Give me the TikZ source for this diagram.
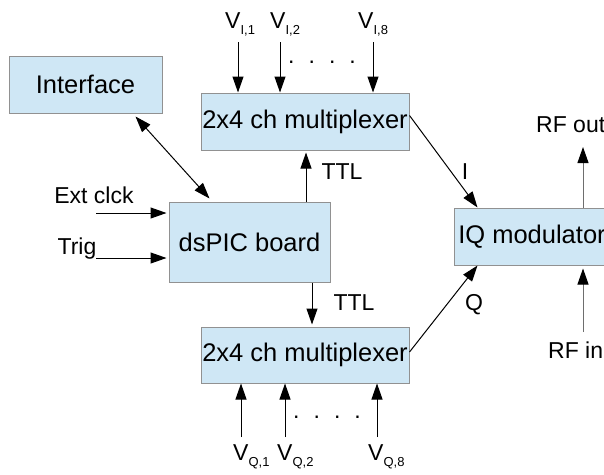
\documentclass[tikz,border=0pt]{standalone}
\usepackage{fontspec}
\setmainfont{Liberation Sans}
\usepackage{xcolor}
\usetikzlibrary{arrows.meta, positioning, calc}
\definecolor{boxblue}{RGB}{207, 231, 245}
\definecolor{boxedge}{RGB}{145, 145, 145}
\definecolor{rfgray}{RGB}{110, 110, 110}
\newcommand{\vchan}[2]{V\raisebox{-0.5ex}{\fontsize{13}{13}\selectfont #1,#2}}

\begin{document}
\begin{tikzpicture}[x=1pt, y=-1pt,
    blk/.style={draw=boxedge, fill=boxblue, line width=1pt, inner sep=0pt,
                font=\fontsize{25.5}{25.5}\selectfont},
    lbl/.style={font=\fontsize{23}{23}\selectfont, inner sep=0pt},
    sig/.style={-{Triangle[length=16pt, width=11pt]}, line width=1pt},
    dbl/.style={{Triangle[length=16pt, width=11pt]}-{Triangle[length=16pt, width=11pt]}, line width=1pt},
    rf/.style={-{Triangle[length=16pt, width=11pt, black]}, line width=1pt, draw=rfgray}]
    \useasboundingbox (0,0) rectangle (604,474);

    % Bloecke
    \node[blk, minimum width=153pt, minimum height=57pt] (ifc) at (85.5,84.5) {Interface};
    \node[blk, minimum width=208pt, minimum height=57pt] (tmux) at (305,121.5) {2x4 ch multiplexer};
    \node[blk, minimum width=161pt, minimum height=80pt] (dsp) at (249.5,242) {dsPIC board};
    \node[blk, minimum width=208pt, minimum height=56pt] (bmux) at (305,355) {2x4 ch multiplexer};
    \node[blk, minimum width=156pt, minimum height=57pt] (iq) at (532,236.5) {IQ modulator};

    % dsPIC Verbindungen
    \draw[dbl] ([xshift=-27pt, yshift=-3pt]ifc.south east) -- ([xshift=41pt, yshift=3pt]dsp.north west);
    \draw[sig] ([xshift=56.5pt]dsp.north) -- ([xshift=1pt, yshift=-2pt]tmux.south);
    \draw[sig] ([xshift=62.5pt]dsp.south) -- ([xshift=7pt, yshift=2pt]bmux.north);
    \node[lbl] (ttlup) at (342,172) {TTL};
    \node[lbl] (ttldn) at (354,303) {TTL};

    % Eingaenge links
    \coordinate (ext) at (96,213);
    \coordinate (trg) at (96,258);
    \draw[sig, shorten >=2pt] (ext) -- (dsp.west |- ext);
    \draw[sig, shorten >=2pt] (trg) -- (dsp.west |- trg);
    \node[lbl] (extlbl) at (94,195) {Ext clck};
    \node[lbl] (trglbl) at (77,249) {Trig};

    % Kanaele I
    \foreach \x/\lx/\n in {238/225/1, 280/270/2, 373/358/8} {
        \coordinate (vi\n) at (\x,42);
        \draw[sig] (vi\n) -- (vi\n |- tmux.north);
        \node[lbl, anchor=base west] (vil\n) at (\lx,28) {\vchan{I}{\n}};
    }
    \node[lbl] (idots) at (322,62) {.\hskip14pt.\hskip14pt.\hskip14pt.};

    % Kanaele Q
    \foreach \x/\lx/\n in {241/233/1, 285/277/2, 377/368/8} {
        \coordinate (vq\n) at (\x,437);
        \draw[sig] (vq\n) -- (vq\n |- bmux.south);
        \node[lbl, anchor=base west] (vql\n) at (\lx,460) {\vchan{Q}{\n}};
    }
    \node[lbl] (qdots) at (327,417) {.\hskip14pt.\hskip14pt.\hskip14pt.};

    % I/Q zum Modulator
    \draw[sig] ([yshift=6pt]tmux.east) -- ([xshift=24pt]iq.north west);
    \draw[sig] ([yshift=3pt]bmux.east) -- ([xshift=24pt]iq.south west);
    \node[lbl] (ilbl) at (465,172) {I};
    \node[lbl] (qlbl) at (474,305) {Q};

    % RF
    \coordinate (rfo) at (583,147);
    \coordinate (rfi) at (583,332);
    \draw[rf] ([xshift=51pt]iq.north) -- (rfo);
    \draw[rf] (rfi) -- ([xshift=51pt, yshift=-3pt]iq.south);
    \node[lbl, anchor=west] (rfolbl) at (536,125) {RF out};
    \node[lbl, anchor=west] (rfilbl) at (548,350) {RF in};
\end{tikzpicture}
\end{document}
